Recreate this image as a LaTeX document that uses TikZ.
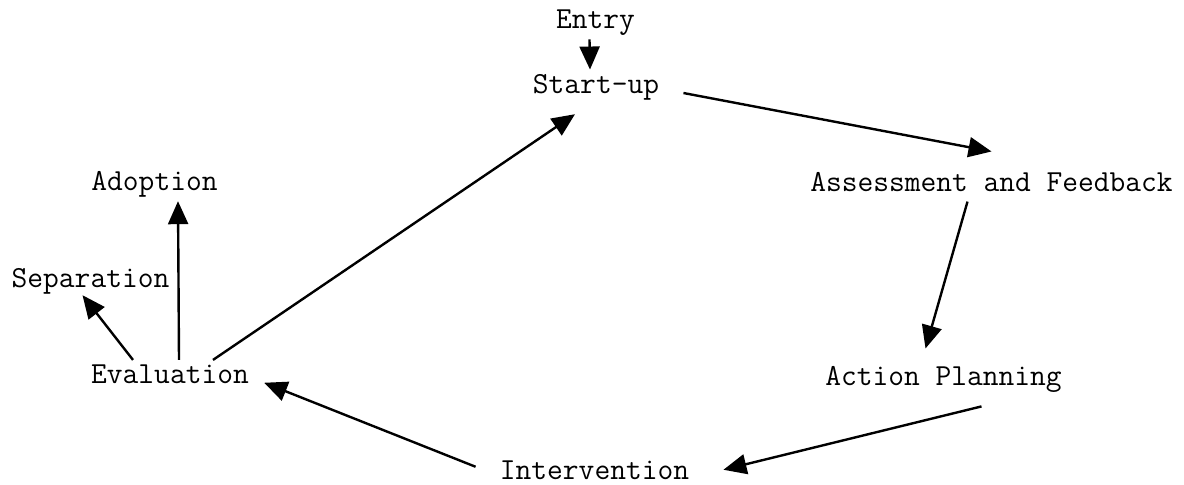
\documentclass[tikz,border=0pt]{standalone}
\usepackage{fontspec}
\usepackage{tikz}
\usetikzlibrary{arrows.meta, positioning}

\tikzset{
  stage/.style={font=\ttfamily\fontsize{15.3}{18}\selectfont, inner sep=2pt, anchor=base},
  flow/.style={-{Triangle[length=11.5pt,width=10pt]}, line width=1.2pt}
}

\begin{document}
\begin{tikzpicture}[x=0.5pt, y=-0.5pt]
        \useasboundingbox (0,0) rectangle (1184,484);

        % stages of the cycle
        \node[stage] (entry) at (595.5,28) {Entry};
        \node[stage] (startup) at (596,93) {Start-up};
        \node[stage] (assess) at (991.5,191) {Assessment and Feedback};
        \node[stage] (action) at (943.5,385) {Action Planning};
        \node[stage] (interv) at (594.5,479) {Intervention};
        \node[stage] (eval) at (170,383) {Evaluation};
        \node[stage] (sep) at (90.5,287) {Separation};
        \node[stage] (adopt) at (154.5,190) {Adoption};

        % cycle arrows
        \draw[flow] ([xshift=-3pt]entry.south) -- ([xshift=-3pt]startup.north);
        \draw[flow] ([xshift=10pt]startup.base east) -- ([yshift=8pt]assess.north);
        \draw[flow] ([xshift=-12pt,yshift=-3pt]assess.south) -- ([xshift=-9pt,yshift=6.5pt]action.north);
        \draw[flow] ([xshift=19pt,yshift=-5pt]action.south) -- ([xshift=15pt]interv.east);
        \draw[flow] ([xshift=-10pt,yshift=1.5pt]interv.west) -- ([xshift=5.5pt,yshift=-4.5pt]eval.east);
        \draw[flow] ([xshift=21.5pt]eval.north) -- ([xshift=-10.5pt,yshift=-5pt]startup.south);

        % exits from evaluation
        \draw[flow] ([xshift=4.5pt]eval.north) -- ([xshift=11.75pt]adopt.south);
        \draw[flow] ([xshift=-18.5pt]eval.north) -- ([xshift=-4pt,yshift=1.5pt]sep.south);
    \end{tikzpicture}
\end{document}
